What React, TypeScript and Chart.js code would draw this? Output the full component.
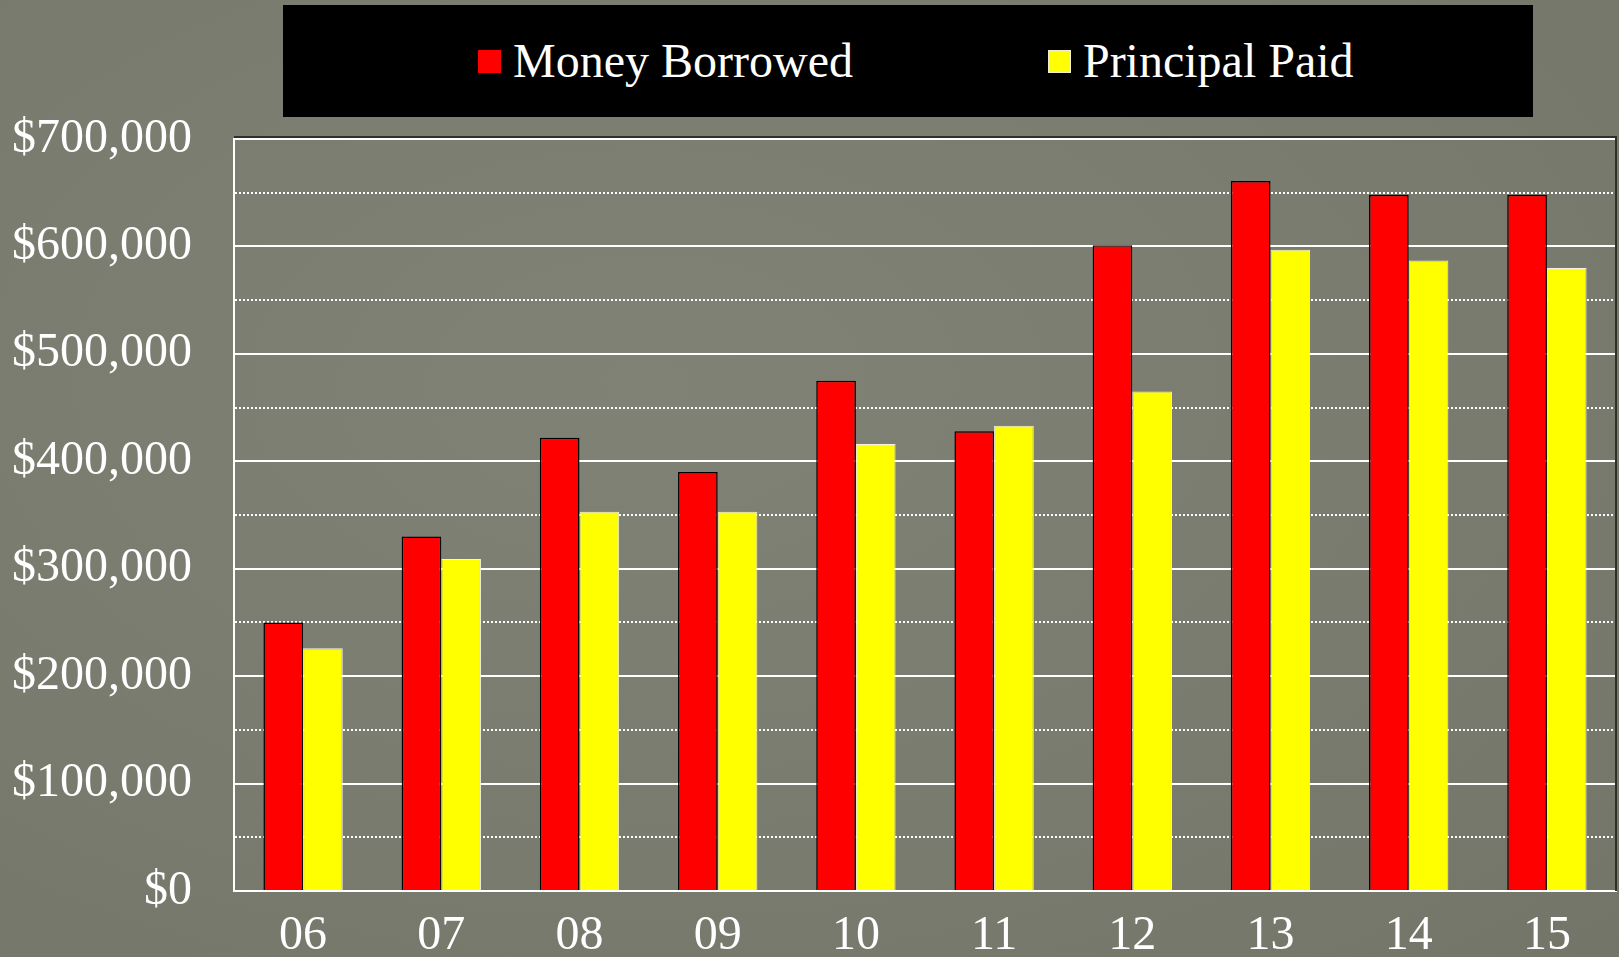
import React, { useEffect, useRef } from "react";
import { Chart, registerables } from "chart.js";

Chart.register(...registerables);

const categories = ["06", "07", "08", "09", "10", "11", "12", "13", "14", "15"];
const moneyBorrowed = [250000, 330000, 422000, 390000, 475000, 428000, 601000, 661000, 648000, 648000];
const principalPaid = [226000, 309000, 353000, 353000, 416000, 433000, 465000, 597000, 587000, 580000];
const seriesNames = ["Money Borrowed", "Principal Paid"];
const seriesColors = ["#ff0000", "#ffff00"];

const FONT = "'Liberation Serif', 'Times New Roman', serif";

const frameShadow = {
  id: "frameShadow",
  afterDatasetsDraw(chart: any) {
    const { ctx, chartArea } = chart;
    ctx.save();
    ctx.strokeStyle = "#2e3029";
    ctx.lineWidth = 2;
    ctx.beginPath();
    ctx.moveTo(chartArea.left, chartArea.top - 2);
    ctx.lineTo(chartArea.right, chartArea.top - 2);
    ctx.lineTo(chartArea.right, chartArea.bottom);
    ctx.stroke();
    ctx.restore();
  },
};

export default function App() {
  const canvasRef = useRef<HTMLCanvasElement | null>(null);

  useEffect(() => {
    const canvas = canvasRef.current;
    if (!canvas) return;
    const chart = new Chart(canvas, {
      type: "bar",
      plugins: [frameShadow],
      data: {
        labels: categories,
        datasets: [
          {
            label: seriesNames[0],
            data: moneyBorrowed,
            backgroundColor: seriesColors[0],
            borderColor: "#000000",
            borderWidth: 1.5,
            categoryPercentage: 0.574,
            barPercentage: 1.0,
          },
          {
            label: seriesNames[1],
            data: principalPaid,
            backgroundColor: seriesColors[1],
            borderColor: "#f4f4e0",
            borderWidth: 1,
            categoryPercentage: 0.574,
            barPercentage: 1.0,
          },
        ],
      },
      options: {
        animation: false,
        responsive: true,
        maintainAspectRatio: false,
        layout: { padding: { top: 139, left: 14, right: 3, bottom: 2 } },
        plugins: {
          legend: { display: false },
          tooltip: { enabled: false },
        },
        scales: {
          x: {
            grid: { display: false },
            border: { display: true, color: "#ffffff", width: 2 },
            afterFit: (scale: any) => {
              scale.height = 63;
            },
            ticks: {
              color: "#ffffff",
              font: { family: FONT, size: 48, lineHeight: 1.0 },
              padding: 13,
              maxRotation: 0,
            },
          },
          y: {
            min: 0,
            max: 700000,
            afterFit: (scale: any) => {
              scale.width = 220;
            },
            grid: {
              drawTicks: false,
              color: "#ffffff",
              lineWidth: 2,
            },
            border: {
              display: true,
              color: "#ffffff",
              width: 2,
              dash: (ctx: any) =>
                ctx.tick && ctx.tick.value % 100000 !== 0 ? [2, 2] : [],
            },
            ticks: {
              stepSize: 50000,
              autoSkip: false,
              color: "#ffffff",
              padding: 42,
              font: { family: FONT, size: 48, lineHeight: 1.0 },
              callback: (v: any) =>
                Number(v) % 100000 === 0 ? "$" + Number(v).toLocaleString("en-US") : "",
            },
          },
        },
      },
    });
    return () => chart.destroy();
  }, []);

  const legendItem = (i: number) => (
    <div key={i} style={{ display: "flex", alignItems: "center" }}>
      <div
        style={{
          width: 23,
          height: 23,
          background: seriesColors[i],
          marginRight: 12,
          boxSizing: "border-box",
          border: i === 1 ? "1px solid #f0f0d0" : "none",
        }}
      />
      <span style={{ fontFamily: FONT, fontSize: 48, lineHeight: "48px", color: "#ffffff" }}>
        {seriesNames[i]}
      </span>
    </div>
  );

  return (
    <div
      style={{
        position: "fixed",
        left: 0,
        top: 0,
        width: 1619,
        height: 957,
        background: "radial-gradient(ellipse at 40% 40%, #7f8274 0%, #787b6d 60%, #727567 100%)",
        overflow: "hidden",
      }}
    >
      <canvas ref={canvasRef} style={{ width: "100%", height: "100%" }} />
      <div
        style={{
          position: "absolute",
          left: 283,
          top: 5,
          width: 1250,
          height: 112,
          background: "#000000",
          display: "flex",
          alignItems: "center",
          paddingLeft: 195,
          boxSizing: "border-box",
          gap: 195,
        }}
      >
        {legendItem(0)}
        {legendItem(1)}
      </div>
    </div>
  );
}
